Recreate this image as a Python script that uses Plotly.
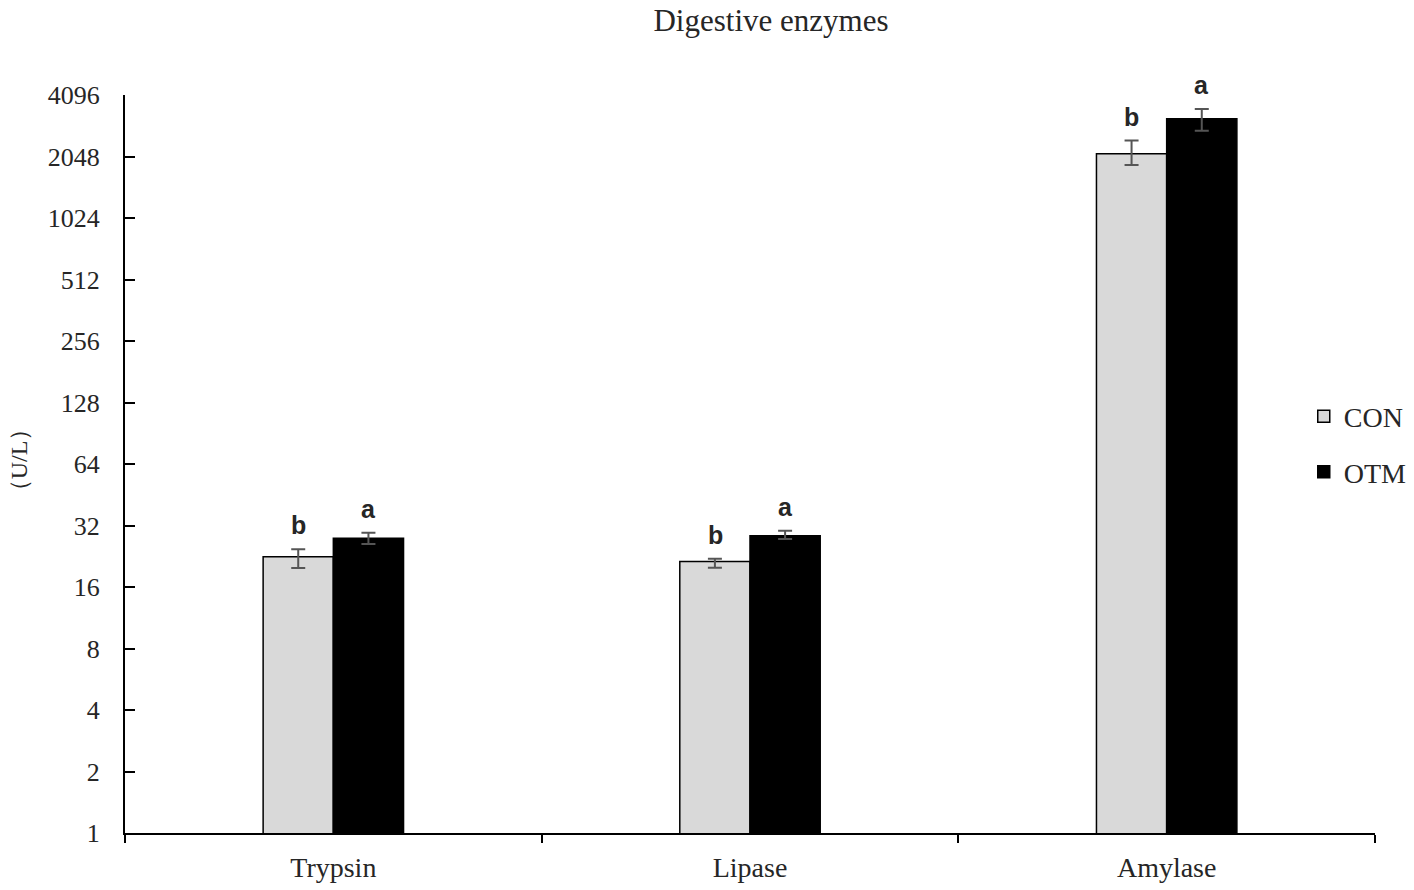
import numpy as np
import plotly.graph_objects as go

# ── Data (U/L, log2 axis)
ENZYMES = ['Trypsin', 'Lipase', 'Amylase']
CON_VALUES = [22.5, 21.3, 2110]
CON_ERR_UP = [2.0, 0.7, 340]
CON_ERR_DOWN = [2.7, 1.4, 250]
OTM_VALUES = [27.7, 28.5, 3130]
OTM_ERR_UP = [1.8, 1.7, 370]
OTM_ERR_DOWN = [1.7, 1.0, 390]
CON_LETTERS = ['b', 'b', 'b']
OTM_LETTERS = ['a', 'a', 'a']
Y_TICKS = [1, 2, 4, 8, 16, 32, 64, 128, 256, 512, 1024, 2048, 4096]

SERIF = 'Liberation Serif, Times New Roman, serif'
TEXT_COLOR = '#262626'
ERR_STYLE = dict(color='#555555', thickness=2, width=7)

W, H = 1414, 890

fig = go.Figure()

fig.add_trace(go.Bar(
    x=ENZYMES, y=CON_VALUES, name='CON', legendgroup='con',
    marker=dict(color='#d9d9d9', line=dict(color='black', width=1.5)),
    error_y=dict(type='data', array=CON_ERR_UP, arrayminus=CON_ERR_DOWN, **ERR_STYLE),
))
fig.add_trace(go.Bar(
    x=ENZYMES, y=OTM_VALUES, name='OTM', legendgroup='otm',
    marker=dict(color='black', line=dict(color='black', width=1.5)),
    error_y=dict(type='data', array=OTM_ERR_UP, arrayminus=OTM_ERR_DOWN, **ERR_STYLE),
))

# significance letters above the error bars
for i, enz in enumerate(ENZYMES):
    for val, up, letter, shift in [
        (CON_VALUES[i], CON_ERR_UP[i], CON_LETTERS[i], -35),
        (OTM_VALUES[i], OTM_ERR_UP[i], OTM_LETTERS[i], 35),
    ]:
        fig.add_annotation(
            x=enz, y=np.log10(val + up), xshift=shift,
            text=f'<b>{letter}</b>', showarrow=False,
            yanchor='bottom', yshift=8,
            font=dict(family='Liberation Sans, Arial, sans-serif', size=25, color=TEXT_COLOR),
        )

# y-axis title as a fixed annotation
fig.add_annotation(
    xref='paper', yref='paper', x=0, y=0.505, xshift=-106,
    text='（U/L）', textangle=-90, showarrow=False,
    xanchor='center', yanchor='middle',
    font=dict(family=SERIF, size=24, color=TEXT_COLOR),
)

fig.update_layout(
    width=W, height=H,
    paper_bgcolor='white', plot_bgcolor='white',
    margin=dict(l=125, r=39, t=95, b=57, autoexpand=False),
    barmode='group', bargap=0.663, bargroupgap=0,
    title=dict(
        text='Digestive enzymes', x=771 / W, xanchor='center',
        y=1 - 20 / H, yanchor='middle',
        font=dict(family=SERIF, size=31, color=TEXT_COLOR),
    ),
    legend=dict(
        x=0.943, y=0.527, xanchor='left', yanchor='middle',
        font=dict(family=SERIF, size=28, color=TEXT_COLOR),
        tracegroupgap=16, traceorder='grouped', itemwidth=30,
        bgcolor='rgba(0,0,0,0)',
    ),
    showlegend=True,
)

fig.update_xaxes(
    showline=True, linecolor='black', linewidth=2,
    ticks='outside', ticklen=8, tickcolor='black', tickwidth=2,
    tickson='boundaries', showgrid=False, automargin=False,
    ticklabelstandoff=8,
    tickfont=dict(family=SERIF, size=28, color=TEXT_COLOR),
)
fig.update_yaxes(
    type='log', range=[0, np.log10(4096)],
    tickvals=Y_TICKS, ticktext=[str(v) for v in Y_TICKS],
    showline=True, linecolor='black', linewidth=2,
    ticks='inside', ticklen=10, tickcolor='black', tickwidth=2,
    showgrid=False, zeroline=False, automargin=False,
    ticklabelstandoff=18,
    tickfont=dict(family=SERIF, size=26, color=TEXT_COLOR),
)

# drop the default 8px page margin so the figure fills the window
fig.write_html('out.html', config={'displayModeBar': False},
               post_script="document.body.style.margin='0';")
